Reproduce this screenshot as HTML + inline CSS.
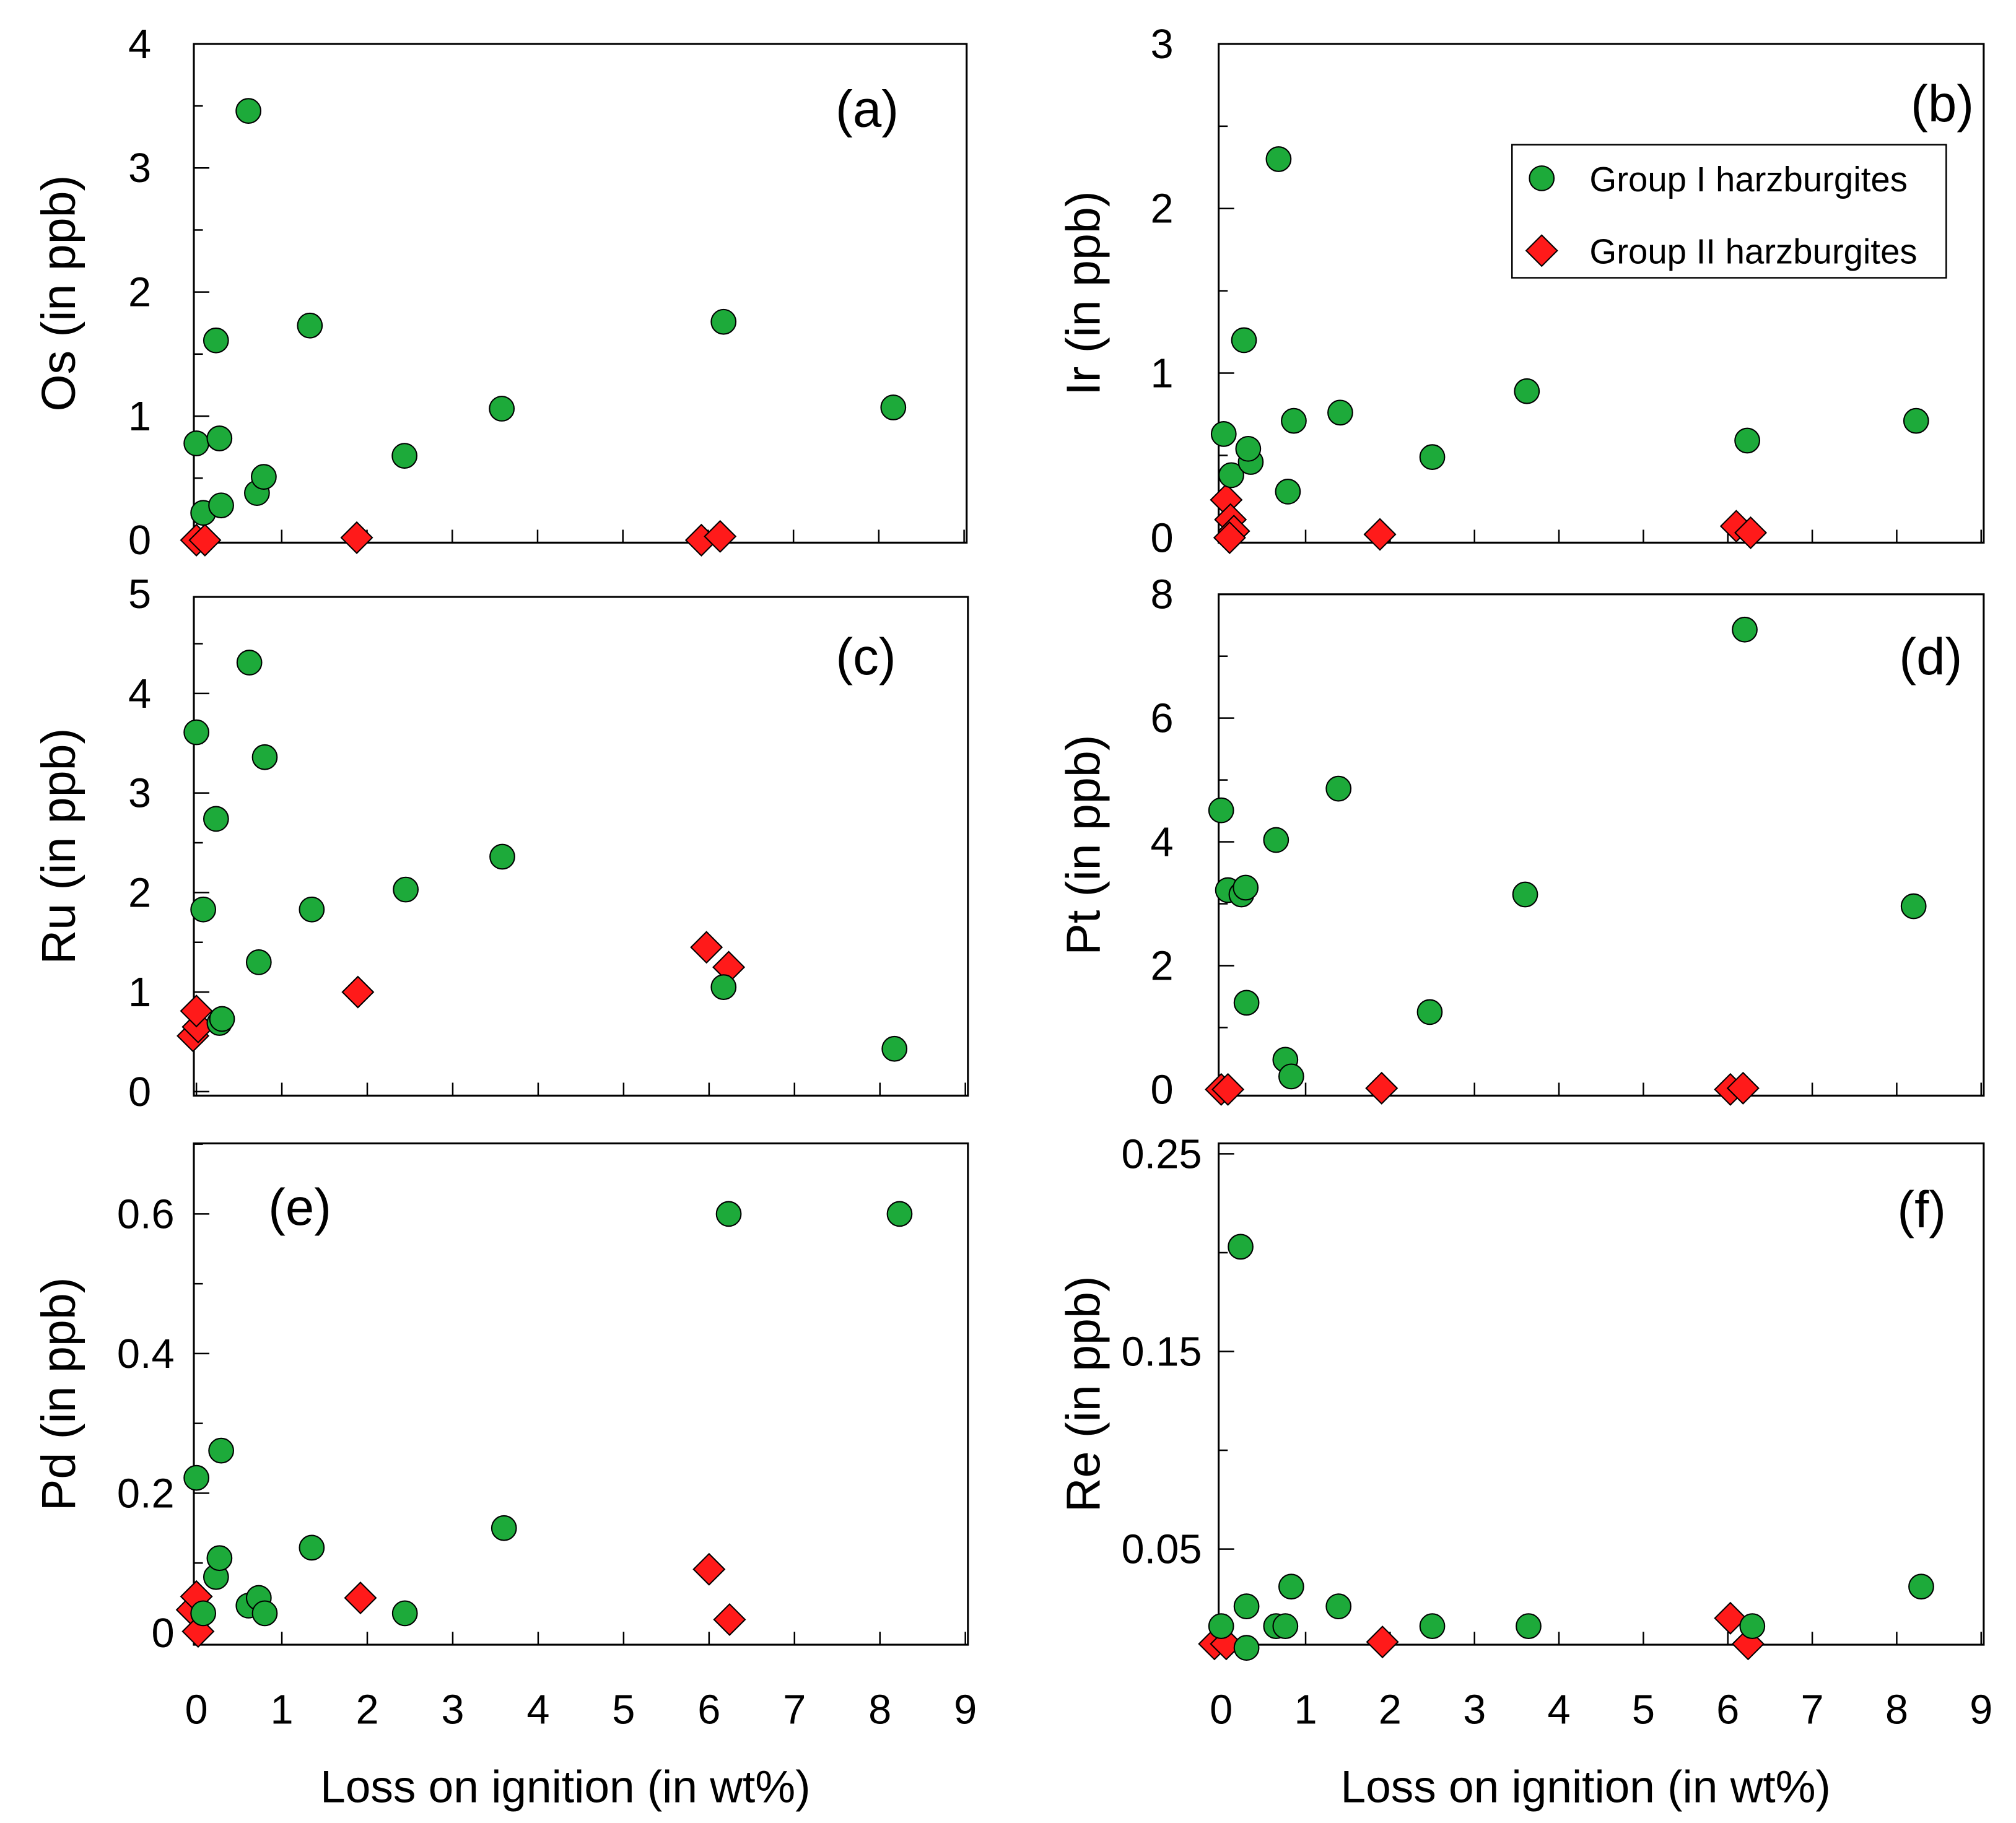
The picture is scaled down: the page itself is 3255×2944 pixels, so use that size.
<!DOCTYPE html>
<html><head><meta charset="utf-8"><style>
html,body{margin:0;padding:0;background:#fff}
svg{display:block}
text{font-family:"Liberation Sans",Arial,sans-serif;fill:#000}
</style></head><body>
<svg id="chart" width="3255" height="2944" viewBox="0 0 1560 1411" preserveAspectRatio="none" xmlns="http://www.w3.org/2000/svg">
<rect width="1560" height="1411" fill="#fff"/>
</svg>
<script>
const NS="http://www.w3.org/2000/svg";
const svg=document.getElementById('chart');
// ---- data ----
const xTicks=[0,1,2,3,4,5,6,7,8,9];
const osG1X=[0,0.08,0.23,0.27,0.29,0.61,0.71,0.79,1.33,2.44,3.58,6.18,8.17];
const osG1Y=[0.78,0.22,1.61,0.82,0.28,3.46,0.38,0.51,1.73,0.68,1.06,1.76,1.07];
const osG2X=[0,0.1,1.88,5.92,6.14];
const osG2Y=[0,0,0.02,0,0.03];
const irG1X=[0.03,0.12,0.27,0.35,0.32,0.68,0.79,0.86,1.41,2.5,3.62,6.23,8.23];
const irG1Y=[0.63,0.38,1.2,0.46,0.54,2.3,0.28,0.71,0.76,0.49,0.89,0.59,0.71];
const irG2X=[0.06,0.11,0.15,0.1,1.88,6.1,6.27];
const irG2Y=[0.23,0.11,0.04,0,0.02,0.07,0.03];
const ruG1X=[0,0.08,0.23,0.27,0.3,0.62,0.73,0.8,1.35,2.45,3.58,6.17,8.17];
const ruG1Y=[3.61,1.83,2.74,0.69,0.73,4.31,1.3,3.36,1.83,2.03,2.36,1.05,0.43];
const ruG2X=[-0.04,0.02,0,1.89,5.97,6.23];
const ruG2Y=[0.56,0.65,0.81,1.0,1.45,1.25];
const ptG1X=[0,0.08,0.24,0.29,0.3,0.65,0.76,0.83,1.39,2.47,3.6,6.2,8.2];
const ptG1Y=[4.51,3.22,3.15,3.26,1.4,4.03,0.48,0.21,4.86,1.25,3.15,7.43,2.96];
const ptG2X=[0,0.08,1.9,6.03,6.18];
const ptG2Y=[0,0,0.02,0,0.02];
const pdG1X=[0,0.08,0.23,0.27,0.29,0.61,0.73,0.8,1.35,2.44,3.6,6.23,8.23];
const pdG1Y=[0.222,0.028,0.08,0.107,0.261,0.039,0.05,0.028,0.122,0.028,0.15,0.6,0.6];
const pdG2X=[-0.05,0,0.02,1.92,6.0,6.24];
const pdG2Y=[0.033,0.052,0.002,0.05,0.091,0.019];
const reG1X=[0,0.23,0.3,0.3,0.65,0.76,0.83,1.39,2.5,3.64,6.29,8.29];
const reG1Y=[0.011,0.203,0.021,0.0,0.011,0.011,0.031,0.021,0.011,0.011,0.011,0.031];
const reG2X=[-0.08,0.06,1.91,6.03,6.24];
const reG2Y=[0.002,0.002,0.003,0.015,0.002];
const osTicks=[0,1,2,3,4], irTicks=[0,1,2,3], ruTicks=[0,1,2,3,4,5], ptTicks=[0,2,4,6,8], pdTicks=[0,0.2,0.4,0.6], reTicks=[0.05,0.15,0.25];

function el(tag,attrs,parent){const e=document.createElementNS(NS,tag);for(const k in attrs)e.setAttribute(k,attrs[k]);(parent||svg).appendChild(e);return e;}

const panels=[
 {id:'a',el:'Os',L:150,R:748,T:34,B:420,ymin:-0.02,ymax:4,yt:osTicks,minor:0.5,fmt:v=>String(v),off:33,g1x:osG1X,g1y:osG1Y,g2x:osG2X,g2y:osG2Y,lab:[671,84],xlab:false},
 {id:'b',el:'Ir',L:943,R:1535,T:34,B:420,ymin:-0.03,ymax:3,yt:irTicks,minor:0.5,fmt:v=>String(v),off:35,g1x:irG1X,g1y:irG1Y,g2x:irG2X,g2y:irG2Y,lab:[1503,80],xlab:false},
 {id:'c',el:'Ru',L:150,R:749,T:462,B:848,ymin:-0.04,ymax:4.97,yt:ruTicks,minor:0.5,fmt:v=>String(v),off:33,g1x:ruG1X,g1y:ruG1Y,g2x:ruG2X,g2y:ruG2Y,lab:[670,508],xlab:false},
 {id:'d',el:'Pt',L:943,R:1535,T:460,B:848,ymin:-0.1,ymax:8,yt:ptTicks,minor:1,fmt:v=>String(v),off:35,g1x:ptG1X,g1y:ptG1Y,g2x:ptG2X,g2y:ptG2Y,lab:[1494,508],xlab:false},
 {id:'e',el:'Pd',L:150,R:749,T:885,B:1273,ymin:-0.017,ymax:0.701,yt:pdTicks,minor:0.1,fmt:v=>v===0?'0':v.toFixed(1),off:15,g1x:pdG1X,g1y:pdG1Y,g2x:pdG2X,g2y:pdG2Y,lab:[232,934],xlab:true},
 {id:'f',el:'Re',L:943,R:1535,T:885,B:1273,ymin:0.0016,ymax:0.2553,yt:reTicks,minor:0.05,fmt:v=>v.toFixed(2),off:13,g1x:reG1X,g1y:reG1Y,g2x:reG2X,g2y:reG2Y,lab:[1487,936],xlab:true},
];
const XMIN=-0.03, XMAX=9.03;
panels.forEach(p=>{
  const g=el('g',{});
  
  
  const sx=v=>p.L+(v-XMIN)/(XMAX-XMIN)*(p.R-p.L);
  const sy=v=>p.B-(v-p.ymin)/(p.ymax-p.ymin)*(p.B-p.T);
  const fr=el('rect',{x:p.L,y:p.T,width:p.R-p.L,height:p.B-p.T,fill:'none',stroke:'#000','stroke-width':1.5},g);
  
  
  for(let v=0;v<=p.ymax+1e-9;v+=p.minor){
    const vv=Math.round(v*1000)/1000;
    if(vv<p.ymin)continue;
    const major=p.yt.some(t=>Math.abs(t-vv)<1e-6);
    el('line',{x1:p.L,x2:p.L+(major?12:7),y1:sy(vv),y2:sy(vv),stroke:'#000','stroke-width':1.2},g);
  }
  p.yt.forEach(v=>{
    const t=el('text',{x:p.L-p.off,y:sy(v)+11,'text-anchor':'end','font-size':32},g);
    t.textContent=p.fmt(v);
    
    
  });
  xTicks.forEach(v=>{
    el('line',{x1:sx(v),x2:sx(v),y1:p.B,y2:p.B-10,stroke:'#000','stroke-width':1.2},g);
    if(p.xlab){
      const t=el('text',{x:sx(v),y:p.B+61,'text-anchor':'middle','font-size':32},g);
      t.textContent=String(v);
      
      
    }
  });
  if(p.xlab){
    const t=el('text',{x:(p.L+p.R)/2-12,y:1395,'text-anchor':'middle','font-size':35},g);
    t.textContent='Loss on ignition (in wt%)';
    
    
  }
  const cy=(p.T+p.B)/2;
  const yt=el('text',{x:0,y:0,'text-anchor':'middle','font-size':37,transform:`translate(${p.L-92},${cy}) rotate(-90)`},g);
  yt.textContent=p.el+' (in ppb)';
  
  
  const lb=el('text',{x:p.lab[0],y:p.lab[1]+14,'text-anchor':'middle','font-size':40},g);
  lb.textContent='('+p.id+')';
  
  
  p.g2x.forEach((x,i)=>{
    const X=sx(x),Y=sy(p.g2y[i]);
    const d=el('polygon',{points:`${X},${Y-12} ${X+12},${Y} ${X},${Y+12} ${X-12},${Y}`,fill:'#ff1a1a',stroke:'#000','stroke-width':1},g);
    
    
  });
  p.g1x.forEach((x,i)=>{
    const c=el('circle',{cx:sx(x),cy:sy(p.g1y[i]),r:9.5,fill:'#1daa3a',stroke:'#000','stroke-width':1},g);
    
    
  });
});
const lg=el('g',{});


el('rect',{x:1170,y:112,width:336,height:103,fill:'#fff',stroke:'#000','stroke-width':1.2},lg);
const lc=el('circle',{cx:1193,cy:138,r:9.5,fill:'#1daa3a',stroke:'#000','stroke-width':1},lg);


const lt1=el('text',{x:1230,y:148,'font-size':27},lg);
lt1.textContent='Group I harzburgites';


const ld=el('polygon',{points:'1193,182 1205,194 1193,206 1181,194',fill:'#ff1a1a',stroke:'#000','stroke-width':1},lg);


const lt2=el('text',{x:1230,y:204,'font-size':27},lg);
lt2.textContent='Group II harzburgites';


</script>
</body></html>
